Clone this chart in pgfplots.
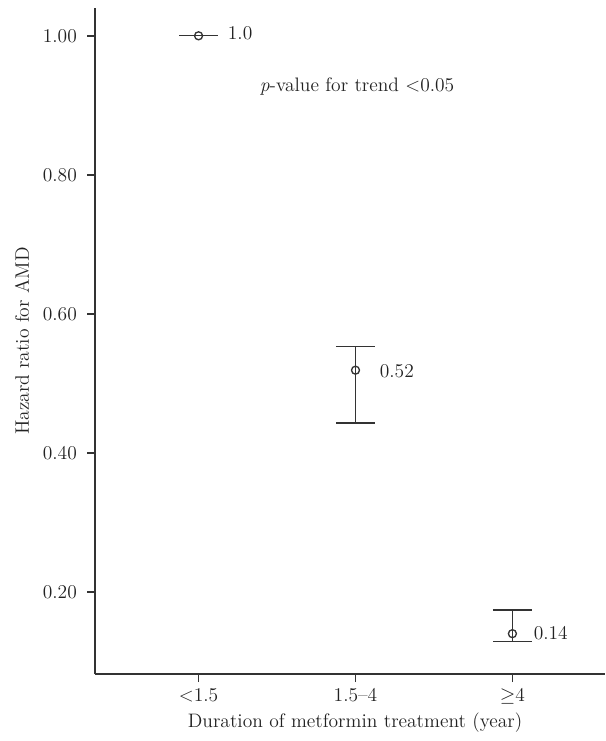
\documentclass[border=0pt]{standalone}
\usepackage{pgfplots}
\pgfplotsset{compat=1.18}
\definecolor{ink}{HTML}{222222}
\definecolor{linec}{HTML}{333333}
\begin{document}
\fontsize{11.7bp}{14bp}\selectfont
\begin{tikzpicture}
\begin{axis}[
  at={(0,0)}, anchor=south west,
  scale only axis,
  width=306bp, height=399.6bp,
  xmin=-0.66, xmax=2.59,
  ymin=0.082, ymax=1.040,
  axis x line=bottom, axis y line=left,
  axis line style={-, linec, line width=0.9bp},
  tick style={linec, line width=0.9bp},
  tick align=outside,
  major tick length=4.8bp,
  xtick={0,1,2},
  xticklabels={{<1.5},{1.5--4},{$\geq$4}},
  ytick={0.2,0.4,0.6,0.8,1.0},
  yticklabel style={/pgf/number format/.cd, fixed, zerofill, precision=2, /tikz/.cd, xshift=-2bp},
  /pgf/number format/assume math mode=true,
  ticklabel style={text=ink},
  xlabel={Duration of metformin treatment (year)},
  ylabel={Hazard ratio for AMD},
  every axis x label/.style={at={(axis description cs:0.51,-0.0736)}, anchor=center, text=ink},
  every axis y label/.style={at={(axis description cs:-0.143,0.5)}, rotate=90, anchor=center, text=ink},
  clip=false,
]
\addplot[linec, line width=0.8bp, only marks, mark=o, mark size=2.4bp,
  mark options={fill=white, line width=0.8bp},
  error bars/.cd, y dir=both, y explicit,
  error bar style={linec, line width=0.8bp},
  error mark options={rotate=90, linec, line width=0.8bp, mark size=11.7bp}]
  table[x=x, y=y, y error plus=ep, y error minus=em] {
  x y ep em
  0 1.000 0.000 0.000
  1 0.519 0.034 0.076
  2 0.140 0.034 0.011
  };
\node[anchor=base west, inner sep=0, text=ink] at (axis cs:0.185,0.994) {1.0};
\node[anchor=base west, inner sep=0, text=ink] at (axis cs:1.153,0.509) {0.52};
\node[anchor=base west, inner sep=0, text=ink] at (axis cs:2.134,0.132) {0.14};
\node[anchor=base west, inner sep=0, text=ink] at (axis cs:0.389,0.920) {\textit{p}-value for trend <0.05};
\end{axis}
\path[use as bounding box] (-57bp,-40.2bp) rectangle (306bp,404.4bp);
\end{tikzpicture}
\end{document}
